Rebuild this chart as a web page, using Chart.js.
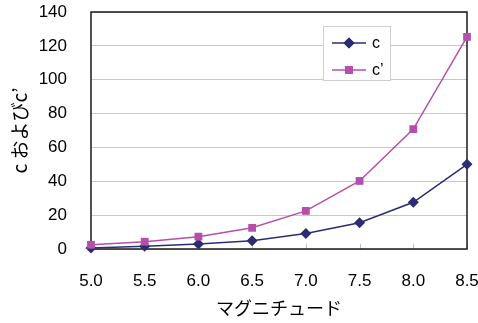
<!DOCTYPE html>
<html><head><meta charset="utf-8">
<script src="https://cdn.jsdelivr.net/npm/chart.js@4/dist/chart.umd.min.js"></script>
<style>html,body{margin:0;padding:0;background:#fff}#wrap{width:478px;height:323px}</style>
</head><body><div id="wrap"><canvas id="c" width="478" height="323"></canvas></div>
<script>
const magnitudes = [5.0, 5.5, 6.0, 6.5, 7.0, 7.5, 8.0, 8.5];
const cValues = [0.6, 1.6, 2.9, 4.9, 9.2, 15.5, 27.6, 50.0];
const cPrimeValues = [2.5, 4.3, 7.3, 12.5, 22.5, 40.2, 70.8, 125.3];
const seriesLabels = ['c', 'c’'];
const xTitle = 'マグニチュード';
const yTitle = 'c およびc’';

const C_COLOR = '#2D2C73';
const CP_COLOR = '#B550AA';
const LATIN = '"Liberation Sans", Arial, sans-serif';
const CJK = '"Noto Sans CJK JP", "Liberation Sans", sans-serif';

const toPoints = (xs, ys) => xs.map((x, i) => ({x: x, y: ys[i]}));
const zeroPad = s => { s.paddingLeft = 0; s.paddingRight = 0; s.paddingTop = 0; s.paddingBottom = 0; };

const framePlugin = {
  id: 'frame',
  beforeDatasetsDraw(chart) {
    const {ctx, chartArea: a, scales} = chart;
    ctx.save();
    ctx.strokeStyle = '#BFBFBF';
    ctx.lineWidth = 1;
    scales.x.ticks.forEach(t => {
      const px = Math.round(scales.x.getPixelForValue(t.value)) + 0.5;
      ctx.beginPath();
      ctx.moveTo(px, a.bottom);
      ctx.lineTo(px, a.bottom - 5);
      ctx.stroke();
    });
    ctx.strokeStyle = '#1a1a1a';
    ctx.lineWidth = 1.5;
    ctx.strokeRect(a.left, a.top, a.right - a.left, a.bottom - a.top);
    ctx.restore();
  }
};

const legendPlugin = {
  id: 'boxLegend',
  afterDraw(chart) {
    const ctx = chart.ctx;
    const box = {x: 323.5, y: 26.5, w: 67, h: 54};
    ctx.save();
    ctx.fillStyle = '#fff';
    ctx.fillRect(box.x, box.y, box.w, box.h);
    ctx.strokeStyle = '#D0D0D0';
    ctx.lineWidth = 1;
    ctx.strokeRect(box.x, box.y, box.w, box.h);
    const rows = [43, 70];
    chart.data.datasets.forEach((ds, i) => {
      const y = rows[i];
      ctx.strokeStyle = ds.borderColor;
      ctx.lineWidth = 1.5;
      ctx.beginPath();
      ctx.moveTo(332, y);
      ctx.lineTo(366, y);
      ctx.stroke();
      ctx.fillStyle = ds.pointBackgroundColor;
      Chart.helpers.drawPoint(ctx, {pointStyle: ds.pointStyle, radius: ds.pointRadius, borderWidth: 0}, 349, y);
      ctx.fill();
      ctx.fillStyle = '#000';
      ctx.font = '16px ' + LATIN;
      ctx.textBaseline = 'middle';
      ctx.textAlign = 'left';
      ctx.fillText(ds.label, 372, y + 1);
    });
    ctx.restore();
  }
};

new Chart(document.getElementById('c'), {
  type: 'scatter',
  data: {
    datasets: [
      {
        label: seriesLabels[0],
        data: toPoints(magnitudes, cValues),
        showLine: true,
        borderColor: C_COLOR,
        backgroundColor: C_COLOR,
        pointBackgroundColor: C_COLOR,
        pointBorderColor: C_COLOR,
        pointBorderWidth: 0,
        pointStyle: 'rectRot',
        pointRadius: 5.5,
        borderWidth: 1.5,
        clip: false,
        order: 2
      },
      {
        label: seriesLabels[1],
        data: toPoints(magnitudes, cPrimeValues),
        showLine: true,
        borderColor: CP_COLOR,
        backgroundColor: CP_COLOR,
        pointBackgroundColor: CP_COLOR,
        pointBorderColor: CP_COLOR,
        pointBorderWidth: 0,
        pointStyle: 'rect',
        pointRadius: 5.5,
        borderWidth: 1.5,
        clip: false,
        order: 1
      }
    ]
  },
  options: {
    responsive: false,
    animation: false,
    devicePixelRatio: 1,
    layout: {padding: {left: 0, right: 11, top: 12, bottom: 4}},
    plugins: {legend: {display: false}, tooltip: {enabled: false}},
    scales: {
      x: {
        type: 'linear',
        min: 5.0, max: 8.5,
        afterFit(s) { s.height = 70; zeroPad(s); },
        border: {display: false},
        grid: {display: false, drawTicks: false},
        ticks: {
          stepSize: 0.5,
          padding: 22,
          maxRotation: 0,
          color: '#000',
          font: {family: LATIN, size: 17},
          callback: v => Number(v).toFixed(1)
        },
        title: {display: true, text: xTitle, color: '#000', font: {family: CJK, size: 18}, padding: 0}
      },
      y: {
        min: 0, max: 140,
        afterFit(s) { s.width = 91; zeroPad(s); },
        border: {display: false},
        grid: {color: '#C8C8C8', lineWidth: 1, drawTicks: false},
        ticks: {
          stepSize: 20,
          padding: 24,
          color: '#000',
          font: {family: LATIN, size: 17}
        },
        title: {display: true, text: yTitle, color: '#000', font: {family: CJK, size: 19}, padding: {top: 8, bottom: 0}}
      }
    }
  },
  plugins: [framePlugin, legendPlugin]
});
</script>
</body></html>
